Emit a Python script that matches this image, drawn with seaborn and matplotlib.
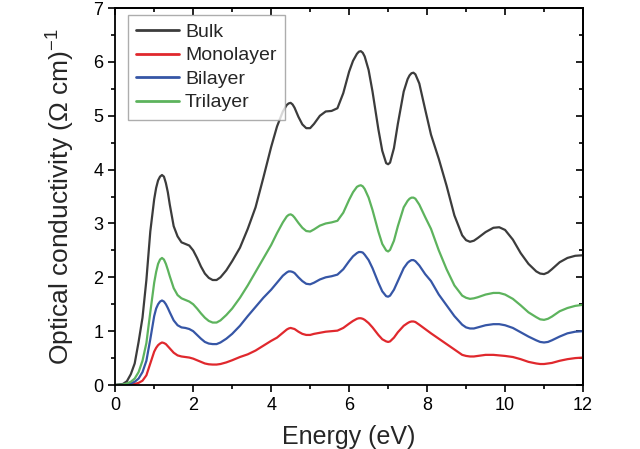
import pandas as pd
import matplotlib.pyplot as plt
import seaborn as sns
from matplotlib.ticker import MultipleLocator

# energy grid (eV)
energy = [0, 0.2, 0.3, 0.4, 0.5, 0.6, 0.7, 0.8, 0.9, 1.0, 1.05, 1.1, 1.15, 1.2, 1.25, 1.3, 1.35, 1.4, 1.5,
          1.6, 1.7, 1.8, 1.9, 2.0, 2.1, 2.2, 2.3, 2.4, 2.5, 2.6, 2.7, 2.85, 3.0,
          3.2, 3.4, 3.6, 3.8, 4.0, 4.15, 4.3, 4.4, 4.45, 4.5, 4.55, 4.6, 4.7, 4.8, 4.9, 5.0, 5.1,
          5.25, 5.4, 5.55, 5.7, 5.85, 6.0, 6.1, 6.2, 6.25, 6.3, 6.35, 6.4, 6.5, 6.6,
          6.75, 6.85, 6.95, 7.0, 7.05, 7.15, 7.25, 7.4, 7.5, 7.55, 7.6, 7.65, 7.7, 7.8, 7.95,
          8.1, 8.3, 8.5, 8.7, 8.9, 9.0, 9.1, 9.2, 9.3, 9.5, 9.7, 9.85, 10.0,
          10.2, 10.4, 10.6, 10.8, 10.9, 11.0, 11.1, 11.2, 11.4, 11.6, 11.8, 12.0]

bulk = [0, 0.02, 0.07, 0.2, 0.4, 0.8, 1.25, 1.95, 2.85, 3.45, 3.66, 3.8, 3.87, 3.9, 3.87, 3.75, 3.58, 3.35, 2.95,
        2.76, 2.65, 2.62, 2.59, 2.5, 2.36, 2.2, 2.07, 1.99, 1.95, 1.95, 2.0, 2.13, 2.3,
        2.55, 2.9, 3.3, 3.85, 4.42, 4.8, 5.08, 5.2, 5.23, 5.24, 5.21, 5.15, 4.98, 4.84, 4.77, 4.77, 4.85,
        5.0, 5.08, 5.09, 5.14, 5.42, 5.82, 6.02, 6.15, 6.19, 6.2, 6.17, 6.1, 5.85, 5.45,
        4.75, 4.35, 4.12, 4.1, 4.13, 4.4, 4.85, 5.45, 5.68, 5.75, 5.79, 5.8, 5.77, 5.6, 5.12,
        4.65, 4.2, 3.7, 3.15, 2.78, 2.69, 2.66, 2.68, 2.73, 2.84, 2.92, 2.93, 2.88,
        2.7, 2.45, 2.25, 2.11, 2.07, 2.06, 2.09, 2.15, 2.28, 2.36, 2.4, 2.41]

monolayer = [0, 0, 0.005, 0.01, 0.02, 0.04, 0.08, 0.18, 0.4, 0.62, 0.69, 0.74, 0.77, 0.79, 0.78, 0.76, 0.72, 0.68, 0.6,
             0.55, 0.53, 0.52, 0.51, 0.49, 0.46, 0.43, 0.4, 0.385, 0.38, 0.38, 0.39, 0.42, 0.46,
             0.52, 0.57, 0.64, 0.73, 0.82, 0.88, 0.97, 1.03, 1.05, 1.06, 1.05, 1.04, 0.99, 0.95, 0.93, 0.93, 0.95,
             0.97, 0.99, 1.0, 1.01, 1.06, 1.14, 1.19, 1.23, 1.24, 1.24, 1.23, 1.21, 1.15, 1.07,
             0.93, 0.85, 0.81, 0.8, 0.81, 0.88, 0.98, 1.1, 1.15, 1.17, 1.18, 1.18, 1.17, 1.12, 1.04,
             0.96, 0.86, 0.76, 0.66, 0.56, 0.54, 0.53, 0.53, 0.54, 0.56, 0.56, 0.55, 0.54,
             0.52, 0.48, 0.43, 0.4, 0.39, 0.39, 0.4, 0.41, 0.45, 0.48, 0.5, 0.51]

bilayer = [0, 0.005, 0.015, 0.03, 0.06, 0.12, 0.24, 0.45, 0.85, 1.28, 1.42, 1.5, 1.55, 1.57, 1.55, 1.5, 1.43, 1.35, 1.2,
           1.11, 1.07, 1.06, 1.04, 1.0, 0.93, 0.86, 0.8, 0.77, 0.76, 0.76, 0.79, 0.86, 0.95,
           1.1, 1.28, 1.45, 1.62, 1.77, 1.9, 2.03, 2.09, 2.11, 2.11, 2.1, 2.08, 2.0, 1.93, 1.88, 1.87, 1.9,
           1.96, 2.0, 2.02, 2.05, 2.15, 2.3, 2.39, 2.45, 2.47, 2.47, 2.46, 2.42, 2.32, 2.17,
           1.9, 1.74, 1.65, 1.64, 1.66, 1.77, 1.93, 2.17, 2.27, 2.3, 2.32, 2.32, 2.3, 2.22, 2.06,
           1.93, 1.68, 1.48, 1.28, 1.12, 1.07, 1.05, 1.05, 1.07, 1.11, 1.13, 1.13, 1.11,
           1.06, 0.98, 0.9, 0.83, 0.8, 0.79, 0.8, 0.83, 0.9, 0.96, 0.99, 1.0]

trilayer = [0, 0.01, 0.03, 0.06, 0.12, 0.24, 0.45, 0.78, 1.35, 1.9, 2.1, 2.25, 2.33, 2.36, 2.33, 2.25, 2.14, 2.02, 1.8,
            1.67, 1.61, 1.58, 1.55, 1.5, 1.42, 1.33, 1.25, 1.19, 1.16, 1.16, 1.2, 1.3, 1.42,
            1.62, 1.85, 2.1, 2.35, 2.6, 2.82, 3.02, 3.13, 3.16, 3.17, 3.15, 3.11, 3.01, 2.92, 2.86, 2.85, 2.89,
            2.96, 3.0, 3.02, 3.05, 3.2, 3.44, 3.58, 3.68, 3.7, 3.71, 3.69, 3.64, 3.48, 3.25,
            2.85, 2.62, 2.5, 2.48, 2.51, 2.68, 2.95, 3.3, 3.42, 3.46, 3.48, 3.48, 3.46, 3.35, 3.12,
            2.9, 2.5, 2.15, 1.85, 1.66, 1.62, 1.6, 1.61, 1.63, 1.68, 1.71, 1.71, 1.68,
            1.6, 1.48, 1.35, 1.26, 1.22, 1.21, 1.23, 1.27, 1.37, 1.43, 1.47, 1.49]

series = ["Bulk", "Monolayer", "Bilayer", "Trilayer"]
colors = ["#3c3c3c", "#e0282d", "#3656a6", "#5db35d"]

df = pd.DataFrame({"energy": energy, "Bulk": bulk, "Monolayer": monolayer,
                   "Bilayer": bilayer, "Trilayer": trilayer})

sns.set_style("ticks")
plt.rcParams["font.family"] = ["Liberation Sans", "DejaVu Sans"]
plt.rcParams["mathtext.default"] = "regular"
plt.rcParams.update({
    "xtick.major.size": 5, "ytick.major.size": 5,
    "xtick.minor.size": 3, "ytick.minor.size": 3,
    "xtick.major.width": 1.2, "ytick.major.width": 1.2,
    "xtick.minor.width": 1.2, "ytick.minor.width": 1.2,
    "xtick.color": "black", "ytick.color": "black",
    "axes.edgecolor": "black", "axes.linewidth": 1.3,
    "lines.solid_joinstyle": "round",
})

fig = plt.figure(figsize=(6.4, 4.49), dpi=100)
ax = fig.add_axes([0.18, 0.1425, 0.731, 0.8395])

for name, c in zip(series, colors):
    sns.lineplot(data=df, x="energy", y=name, color=c, label=name, linewidth=1.6, ax=ax)

ax.set_xlim(0, 12)
ax.set_ylim(0, 7)
ax.xaxis.set_major_locator(MultipleLocator(2))
ax.xaxis.set_minor_locator(MultipleLocator(1))
ax.yaxis.set_major_locator(MultipleLocator(1))
ax.yaxis.set_minor_locator(MultipleLocator(0.5))
sns.despine(ax=ax, top=False, right=False)
ax.tick_params(which="both", direction="out", bottom=True, left=True, top=False, right=False,
               labelsize=13)

# mirror ticks pointing inward on top/right
sec_x = ax.secondary_xaxis("top")
sec_x.xaxis.set_major_locator(MultipleLocator(2))
sec_x.xaxis.set_minor_locator(MultipleLocator(1))
sec_x.tick_params(which="both", direction="in", top=True, labeltop=False)
sec_y = ax.secondary_yaxis("right")
sec_y.yaxis.set_major_locator(MultipleLocator(1))
sec_y.yaxis.set_minor_locator(MultipleLocator(0.5))
sec_y.tick_params(which="both", direction="in", right=True, labelright=False)

ax.set_xlabel("Energy (eV)", fontsize=18, labelpad=8)
ax.set_ylabel("Optical conductivity (Ω cm)$^{-1}$", fontsize=19, labelpad=12)

leg = ax.legend(loc="upper left", bbox_to_anchor=(0.028, 0.981), borderaxespad=0,
                fontsize=14, frameon=True, fancybox=False, handlelength=2.2,
                handletextpad=0.3, labelspacing=0.3, borderpad=0.42)
leg.get_frame().set_edgecolor("#999999")
leg.get_frame().set_linewidth(1.0)
for line in leg.get_lines():
    line.set_linewidth(2.0)

plt.savefig("out.png", dpi=100)
